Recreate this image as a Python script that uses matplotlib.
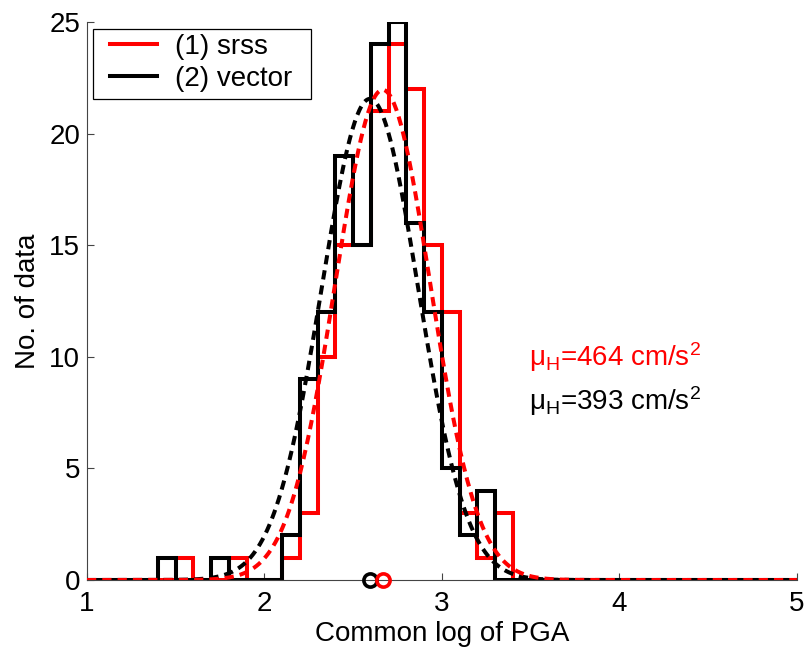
import numpy as np
import matplotlib
matplotlib.use("Agg")
import matplotlib.pyplot as plt
from matplotlib.patches import Rectangle

plt.rcParams['font.family'] = ['Liberation Sans', 'DejaVu Sans']

# histogram bin edges (common log of PGA), bin width 0.1
bin_edges = np.round(np.arange(1.0, 5.0001, 0.1), 2)

# counts per bin, starting at the 1.4-1.5 bin
counts_start = 1.4
srss_counts = [0, 1, 0, 0, 1, 0, 0, 1, 3, 10, 15, 15, 21, 24, 22, 15, 12, 3, 1, 3]
vector_counts = [1, 0, 0, 1, 0, 0, 0, 2, 9, 12, 19, 15, 24, 25, 16, 12, 5, 2, 4, 0]

# fitted lognormal parameters
srss_mu_pga = 464    # cm/s^2
vector_mu_pga = 393  # cm/s^2
srss_sigma = 0.267
vector_sigma = 0.272

labels = ['(1) srss', '(2) vector']
colors = ['red', 'black']


def full_counts(c):
    out = np.zeros(len(bin_edges) - 1)
    i0 = int(round((counts_start - bin_edges[0]) / 0.1))
    out[i0:i0 + len(c)] = c
    return out


fig = plt.figure(figsize=(8.09, 6.50), dpi=100)
ax = fig.add_axes([0.1075, 0.1077, 0.8775, 0.8583])

series = [(srss_counts, srss_mu_pga, srss_sigma),
          (vector_counts, vector_mu_pga, vector_sigma)]

for (c, mu_pga, sig), col, lab in zip(series, colors, labels):
    ax.stairs(full_counts(c), bin_edges, color=col, lw=2.9, label=lab, zorder=2)

xs = np.linspace(1, 5, 600)
for (c, mu_pga, sig), col in reversed(list(zip(series, colors))):
    mu = np.log10(mu_pga)
    n = sum(c)
    fit = n * 0.1 / (sig * np.sqrt(2 * np.pi)) * np.exp(-(xs - mu) ** 2 / (2 * sig ** 2))
    ax.plot(xs, fit, color=col, lw=2.9, ls=(0, (2.3, 1.5)), zorder=3)

for (c, mu_pga, sig), col in reversed(list(zip(series, colors))):
    ax.plot(np.log10(mu_pga), 0, 'o', mfc='none', mec=col, ms=9.5, mew=2.6,
            clip_on=False, zorder=4)

ax.text(3.49, 10.0, r'$\mathregular{\mu_H}$=%d cm/s$\mathregular{^2}$' % srss_mu_pga,
        color='red', fontsize=20, va='center')
ax.text(3.49, 8.0, r'$\mathregular{\mu_H}$=%d cm/s$\mathregular{^2}$' % vector_mu_pga,
        color='black', fontsize=20, va='center')

ax.set_xlim(1, 5)
ax.set_ylim(0, 25)
ax.set_xticks([1, 2, 3, 4, 5])
ax.set_yticks([0, 5, 10, 15, 20, 25])
ax.tick_params(direction='in', length=5, width=0.8, color='#444444', labelsize=20)
ax.tick_params(axis='x', pad=8)
ax.tick_params(axis='y', pad=5)
for s in ['top', 'right']:
    ax.spines[s].set_visible(False)
for s in ['left', 'bottom']:
    ax.spines[s].set_color('#444444')
    ax.spines[s].set_linewidth(0.8)

ax.set_xlabel('Common log of PGA', fontsize=20, labelpad=3)
ax.set_ylabel('No. of data', fontsize=20, labelpad=6)

# legend without its own frame, box drawn separately (MATLAB style)
leg = ax.legend(handles=[plt.Line2D([], [], color=c, lw=2.9) for c in colors],
                labels=labels, loc='upper left', fontsize=20, frameon=False,
                handlelength=1.69, borderpad=0, labelspacing=0.22,
                handletextpad=0.65, borderaxespad=0,
                bbox_to_anchor=(0.0324, 0.979))
ax.add_patch(Rectangle((0.00845, 0.862), 0.307, 0.1255, transform=ax.transAxes,
                       fill=False, ec='black', lw=0.9, zorder=5))

fig.savefig('out.png', dpi=100)
